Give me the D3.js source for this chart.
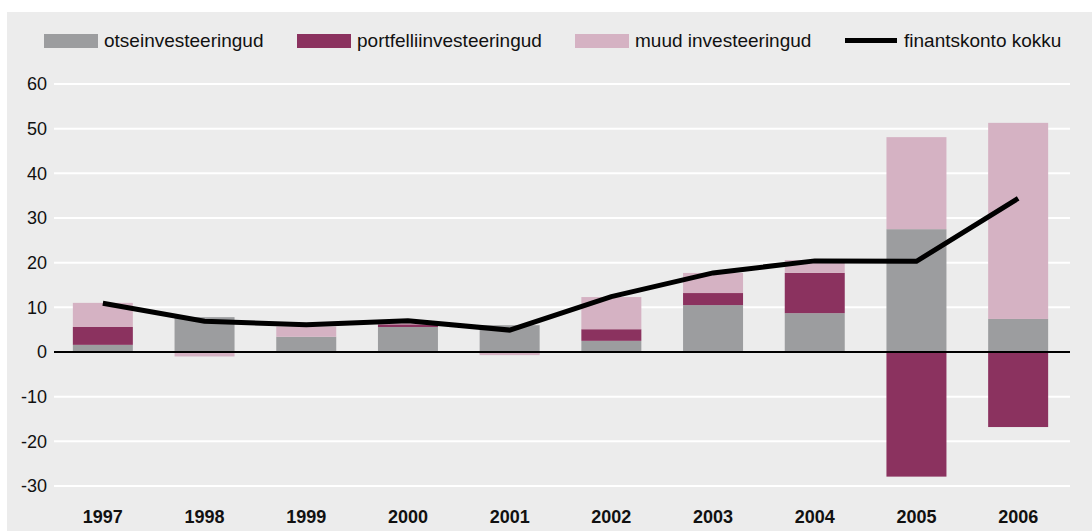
<!DOCTYPE html>
<html lang="et">
<head>
<meta charset="utf-8">
<title>Finantskonto</title>
<script src="https://cdn.jsdelivr.net/npm/d3@7"></script>
<style>
  body { margin: 0; background: #fff; }
  svg { display: block; font-family: "Liberation Sans", Arial, sans-serif; }
</style>
</head>
<body>
<script>
// andmed (mld kr), loetud jooniselt
var years = ["1997","1998","1999","2000","2001","2002","2003","2004","2005","2006"];
var otse = [1.6, 7.8, 3.4, 5.6, 6.0, 2.5, 10.5, 8.7, 27.5, 7.4];
var portfelli = [4.0, 0.0, 0.0, 0.6, -0.3, 2.6, 2.7, 9.0, -27.9, -16.8];
var muud = [5.4, -1.0, 2.3, 0.4, -0.4, 7.2, 4.5, 2.9, 20.6, 43.9];
var kokku = [10.9, 6.9, 6.1, 7.0, 4.9, 12.4, 17.7, 20.4, 20.3, 34.4];
var yTicks = [-30, -20, -10, 0, 10, 20, 30, 40, 50, 60];

var seriesNames = ["otseinvesteeringud", "portfelliinvesteeringud", "muud investeeringud"];
var colors = ["#9c9d9f", "#8b325f", "#d5b2c3"];
var lineName = "finantskonto kokku";

var w = 1092, h = 531;
var svg = d3.select("body").append("svg").attr("width", w).attr("height", h);

// panel background
svg.append("rect").attr("x", 7).attr("y", 12).attr("width", w - 7).attr("height", h - 12).attr("fill", "#ececec");

var x = d3.scaleBand().domain(years).range([52, 1069]).paddingInner(0.41).paddingOuter(0.205);
var y = d3.scaleLinear().domain([-30, 60]).range([486, 84]);

// gridlines
svg.append("g").selectAll("line").data(yTicks.filter(function(d){ return d !== 0; }))
  .enter().append("line")
  .attr("x1", 54).attr("x2", 1070)
  .attr("y1", function(d){ return y(d); }).attr("y2", function(d){ return y(d); })
  .attr("stroke", "#fff").attr("stroke-width", 2);

// y labels
svg.append("g").selectAll("text").data(yTicks).enter().append("text")
  .attr("x", 47).attr("y", function(d){ return y(d); })
  .attr("dy", "0.35em").attr("text-anchor", "end")
  .attr("font-size", 18).attr("fill", "#111")
  .text(function(d){ return d; });

// stacked bars
var table = years.map(function(yr, i){
  return { year: yr, s0: otse[i], s1: portfelli[i], s2: muud[i] };
});
var stack = d3.stack().keys(["s0","s1","s2"]).offset(d3.stackOffsetDiverging);
var layers = stack(table);

svg.append("g").selectAll("g").data(layers).enter().append("g")
  .attr("fill", function(d, i){ return colors[i]; })
  .selectAll("rect").data(function(d){ return d; }).enter().append("rect")
  .attr("x", function(d){ return x(d.data.year); })
  .attr("width", x.bandwidth())
  .attr("y", function(d){ return y(Math.max(d[0], d[1])); })
  .attr("height", function(d){ return Math.abs(y(d[0]) - y(d[1])); });

// zero line
svg.append("line").attr("x1", 54).attr("x2", 1070).attr("y1", y(0)).attr("y2", y(0))
  .attr("stroke", "#000").attr("stroke-width", 2);

// total line
var line = d3.line()
  .x(function(d, i){ return x(years[i]) + x.bandwidth() / 2; })
  .y(function(d){ return y(d); });
svg.append("path").datum(kokku).attr("d", line)
  .attr("fill", "none").attr("stroke", "#000").attr("stroke-width", 5)
  .attr("stroke-linejoin", "miter");

// x labels
svg.append("g").selectAll("text").data(years).enter().append("text")
  .attr("x", function(d){ return x(d) + x.bandwidth() / 2; })
  .attr("y", 523).attr("text-anchor", "middle")
  .attr("font-size", 18).attr("font-weight", "bold").attr("fill", "#111")
  .text(function(d){ return d; });

// legend
var legX = [44, 297, 575];
seriesNames.forEach(function(n, i){
  svg.append("rect").attr("x", legX[i]).attr("y", 34).attr("width", 54).attr("height", 14).attr("fill", colors[i]);
  svg.append("text").attr("x", legX[i] + 60).attr("y", 47).attr("font-size", 19).attr("fill", "#111").text(n);
});
svg.append("line").attr("x1", 845).attr("x2", 897).attr("y1", 40.5).attr("y2", 40.5)
  .attr("stroke", "#000").attr("stroke-width", 5);
svg.append("text").attr("x", 904).attr("y", 47).attr("font-size", 19).attr("fill", "#111").text(lineName);
</script>
</body>
</html>
